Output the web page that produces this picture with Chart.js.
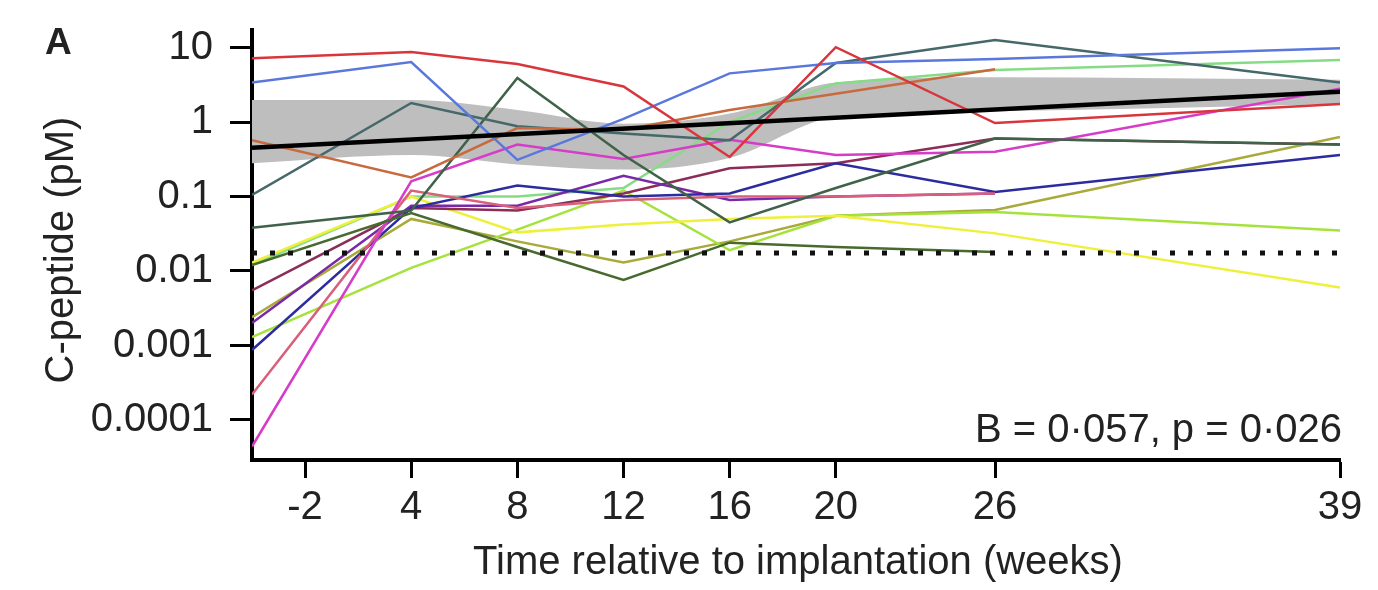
<!DOCTYPE html>
<html>
<head>
<meta charset="utf-8">
<script src="https://cdn.jsdelivr.net/npm/chart.js@4.4.0/dist/chart.umd.min.js"></script>
<style>
  html, body { margin: 0; padding: 0; background: #fff; }
  #wrap { width: 1378px; height: 590px; }
</style>
</head>
<body>
<div id="wrap"><canvas id="chart_1" width="1378" height="590"></canvas></div>
<script>
// sampling weeks (first sample sits on the y axis)
const weeks = [-2, 4, 8, 12, 16, 20, 26, 39];
const tickWeeks = [0, 4, 8, 12, 16, 20, 26, 39];
const tickLabels = ['-2', '4', '8', '12', '16', '20', '26', '39'];
const yTicks = [0.0001, 0.001, 0.01, 0.1, 1, 10];
const yTickLabels = ['0.0001', '0.001', '0.01', '0.1', '1', '10'];

// C-peptide per patient (pM), null = no sample
const red        = [7.2, 8.7, 6.0, 3.0, 0.34, 10.1, 0.97, 1.75];
const blue       = [3.4, 6.4, 0.31, 1.1, 4.5, 6.2, 7.0, 9.8];
const orange     = [0.57, 0.18, 0.83, 0.78, 1.45, 2.4, 5.1, null];
const slate      = [0.105, 1.8, 0.88, 0.7, 0.57, 6.2, 12.6, 3.4];
const darkOlive  = [0.038, 0.065, 3.9, 0.36, 0.045, 0.13, 0.6, 0.5];
const darkGreen  = [0.012, 0.06, 0.021, 0.0076, 0.024, 0.021, 0.018, null];
const magenta    = [0.000044, 0.16, 0.5, 0.32, 0.58, 0.36, 0.4, 2.8];
const salmon     = [0.00022, 0.12, 0.07, 0.09, 0.1, 0.1, 0.11, null];
const navy       = [0.00087, 0.07, 0.14, 0.1, 0.11, 0.28, 0.115, 0.36];
const violet     = [0.002, 0.075, 0.075, 0.19, 0.09, 0.1, 0.11, null];
const maroon     = [0.0055, 0.07, 0.065, 0.11, 0.24, 0.28, 0.6, 0.5];
const yellow     = [0.013, 0.1, 0.033, 0.042, 0.05, 0.055, 0.032, 0.006];
const chartreuse = [0.0013, 0.011, 0.036, 0.12, 0.019, 0.055, 0.062, 0.035];
const olive      = [0.0024, 0.05, 0.025, 0.013, 0.025, 0.055, 0.066, 0.63];
const green      = [0.012, 0.1, 0.1, 0.13, 1.0, 3.3, 5.0, 6.8];

// mixed model fit and its band
const fitWeeks = [-2, 39];
const fitLine = [0.45, 2.55];
const bandUpper = [1.97, 1.97, 1.45, 0.95, 1.3, 3.4, 4.0, 3.7];
const bandLower = [0.28, 0.36, 0.27, 0.23, 0.33, 1.17, 1.4, 1.75];
const detectionLimit = 0.0175;

const patients = [
    [red, '#d8363c'], [blue, '#5a78dc'], [orange, '#c86a3e'], [slate, '#46686a'],
    [darkOlive, '#3f6248'], [darkGreen, '#486a2e'], [magenta, '#d63cc8'], [salmon, '#d8607a'],
    [navy, '#2c2ca0'], [violet, '#7a28a8'], [maroon, '#8c2c58'], [yellow, '#eef03a'],
    [chartreuse, '#a6e23c'], [olive, '#a8aa3a'], [green, '#86dc86']
];

function pts(xs, ys) {
    return xs.map((x, i) => ({ x: x, y: ys[i] }));
}

const font = '"Liberation Sans", Arial, sans-serif';

var datasets = [];
datasets.push({ data: pts(weeks, bandUpper), fill: '+1', backgroundColor: '#bebebe',
    borderWidth: 0, pointRadius: 0, cubicInterpolationMode: 'monotone', order: 10 });
datasets.push({ data: pts(weeks, bandLower), fill: false,
    borderWidth: 0, pointRadius: 0, cubicInterpolationMode: 'monotone', order: 10 });
for (let [vals, col] of patients) {
    datasets.push({ data: pts(weeks, vals), borderColor: col, borderWidth: 2.5, pointRadius: 0, fill: false, order: 3 });
}
datasets.push({ data: pts([-2, 39], [detectionLimit, detectionLimit]), borderColor: '#111',
    borderWidth: 5, borderDash: [5, 13], pointRadius: 0, fill: false, order: 1 });
datasets.push({ data: pts(fitWeeks, fitLine), borderColor: '#000', borderWidth: 4.5, pointRadius: 0, fill: false, order: 0 });

// extra text: panel letter, axis titles, statistic
const textPlugin = {
    id: 'texts',
    afterDraw(chart) {
        const ctx = chart.ctx;
        ctx.save();
        ctx.fillStyle = '#222';
        ctx.textBaseline = 'alphabetic';
        ctx.font = 'bold 37px ' + font;
        ctx.textAlign = 'left';
        ctx.fillText('A', 45, 54);
        ctx.font = '40px ' + font;
        ctx.textAlign = 'right';
        ctx.fillText('B = 0·057, p = 0·026', 1342, 442);
        ctx.textAlign = 'center';
        ctx.fillText('Time relative to implantation (weeks)', 798, 574);
        ctx.translate(73, 250);
        ctx.rotate(-Math.PI / 2);
        ctx.fillText('C-peptide (pM)', 0, 0);
        ctx.restore();
    }
};

new Chart('chart_1', {
    type: 'line',
    data: { datasets: datasets },
    plugins: [textPlugin],
    options: {
        responsive: false,
        animation: false,
        layout: { padding: { top: 30, right: 38, left: 0, bottom: 0 } },
        plugins: {
            legend: { display: false },
            tooltip: { enabled: false },
            filler: { drawTime: 'beforeDatasetsDraw' }
        },
        scales: {
            x: {
                type: 'linear', min: -2, max: 39,
                afterBuildTicks: s => { s.ticks = tickWeeks.map(v => ({ value: v })); },
                afterFit: s => { s.height = 130; s.paddingLeft = 0; s.paddingRight = 0; },
                ticks: {
                    callback: (v, i) => tickLabels[i],
                    font: { family: font, size: 40 }, color: '#222',
                    padding: 6, maxRotation: 0, autoSkip: false
                },
                grid: { drawOnChartArea: false, tickLength: 18, tickWidth: 3, tickColor: '#000' },
                border: { color: '#000', width: 4 }
            },
            y: {
                type: 'logarithmic', min: 2.9e-5, max: 17.2,
                afterBuildTicks: s => { s.ticks = yTicks.map(v => ({ value: v })); },
                afterFit: s => { s.width = 252; s.paddingTop = 0; s.paddingBottom = 0; },
                ticks: {
                    callback: (v, i) => yTickLabels[i],
                    font: { family: font, size: 40 }, color: '#222', padding: 17
                },
                grid: { drawOnChartArea: false, tickLength: 22, tickWidth: 3, tickColor: '#000' },
                border: { color: '#000', width: 4 }
            }
        }
    }
});
</script>
</body>
</html>
